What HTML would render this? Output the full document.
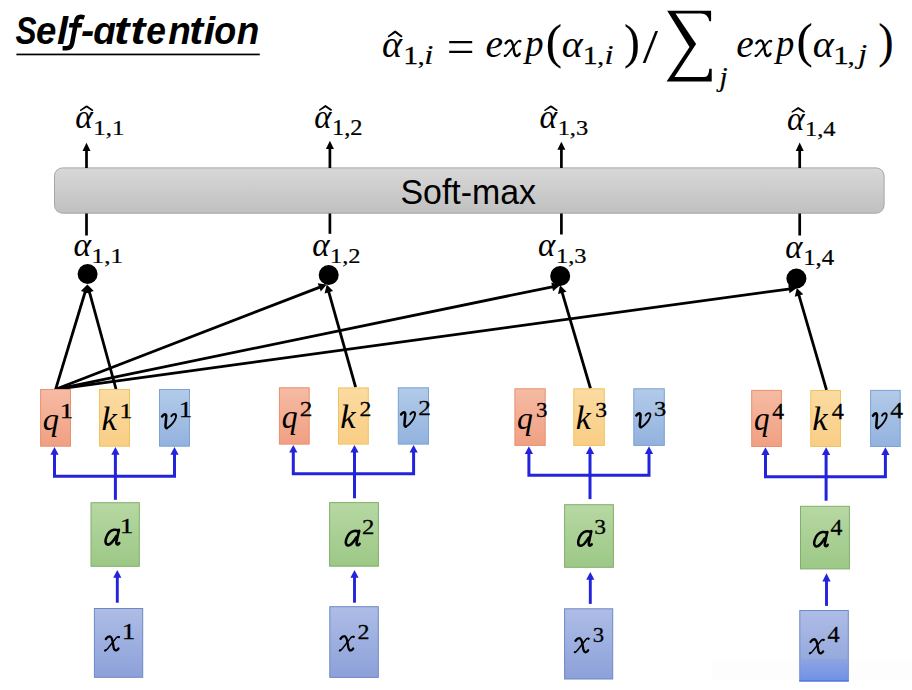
<!DOCTYPE html>
<html><head><meta charset="utf-8"><style>
html,body{margin:0;padding:0;background:#fff;width:912px;height:690px;overflow:hidden}
svg{display:block}
</style></head><body>
<svg width="912" height="690" viewBox="0 0 912 690">
<defs>
<linearGradient id="gs" x1="0" y1="0" x2="0" y2="1"><stop offset="0" stop-color="#d8d8d8"/><stop offset="1" stop-color="#c0c0c0"/></linearGradient>
<linearGradient id="gq" x1="0" y1="0" x2="0" y2="1"><stop offset="0" stop-color="#f6bba3"/><stop offset="1" stop-color="#f0a083"/></linearGradient>
<linearGradient id="gk" x1="0" y1="0" x2="0" y2="1"><stop offset="0" stop-color="#fbdba2"/><stop offset="1" stop-color="#f9ce85"/></linearGradient>
<linearGradient id="gv" x1="0" y1="0" x2="0" y2="1"><stop offset="0" stop-color="#b3cbea"/><stop offset="1" stop-color="#92b2de"/></linearGradient>
<linearGradient id="ga" x1="0" y1="0" x2="0" y2="1"><stop offset="0" stop-color="#b7d8a3"/><stop offset="1" stop-color="#9cc886"/></linearGradient>
<linearGradient id="gx" x1="0" y1="0" x2="0" y2="1"><stop offset="0" stop-color="#aebde6"/><stop offset="1" stop-color="#8ca1d9"/></linearGradient>
<linearGradient id="gw" x1="0" y1="0" x2="0" y2="1"><stop offset="0" stop-color="#8aa2e2"/><stop offset="1" stop-color="#5f88ee"/></linearGradient>
</defs>

<rect x="712" y="659.3" width="200" height="21" fill="#fdfdfd"/>
<path d="M84.3 17.6 Q81.2 16.4 78.9 17.1 Q76.7 17.9 76.1 21.8 L72.1 43.2 Q71 48.1 66.6 48.3 L62.6 48.3" fill="none" stroke="#000" stroke-width="4.5"/>
<path d="M69.6 23.1 L82.4 23.1 L81.6 27.5 L68.8 27.5 Z" fill="#000"/>
<rect x="16.4" y="53.6" width="243.4" height="1.7" fill="#000"/>
<rect x="54.5" y="167.9" width="829.6" height="45.3" rx="8" ry="8" fill="url(#gs)" stroke="#a6a6a6" stroke-width="1"/>
<rect x="85.15" y="150.2" width="2.7" height="17.80" fill="#000"/>
<path d="M86.5 142.8 L90.5 150.89999999999998 L82.5 150.89999999999998 Z" fill="#000"/>
<rect x="85.15" y="213.5" width="2.7" height="22.0" fill="#000"/>
<rect x="328.54999999999995" y="148.4" width="2.7" height="19.60" fill="#000"/>
<path d="M329.9 140.8 L333.9 149.1 L325.9 149.1 Z" fill="#000"/>
<rect x="328.54999999999995" y="213.5" width="2.7" height="20.30000000000001" fill="#000"/>
<rect x="560.05" y="149.0" width="2.7" height="19.00" fill="#000"/>
<path d="M561.4 141.7 L565.4 149.7 L557.4 149.7 Z" fill="#000"/>
<rect x="560.05" y="213.5" width="2.7" height="21.0" fill="#000"/>
<rect x="798.35" y="150.2" width="2.7" height="17.80" fill="#000"/>
<path d="M799.7 142.5 L803.7 150.89999999999998 L795.7 150.89999999999998 Z" fill="#000"/>
<rect x="798.35" y="213.5" width="2.7" height="22.0" fill="#000"/>
<circle cx="87.6" cy="274" r="10" fill="#000"/>
<circle cx="328.7" cy="275" r="10" fill="#000"/>
<circle cx="560.2" cy="276" r="10" fill="#000"/>
<circle cx="796.4" cy="278.5" r="10" fill="#000"/>
<line x1="55.60" y1="389.30" x2="85.51" y2="290.72" stroke="#000" stroke-width="2.8"/><path d="M87.40 284.50 L89.29 293.43 L80.87 290.88 Z" fill="#000"/>
<line x1="116.00" y1="389.00" x2="89.12" y2="290.77" stroke="#000" stroke-width="2.8"/><path d="M87.40 284.50 L93.76 291.05 L85.27 293.38 Z" fill="#000"/>
<line x1="55.60" y1="389.30" x2="320.64" y2="286.84" stroke="#000" stroke-width="2.8"/><path d="M326.70 284.50 L320.82 291.49 L317.65 283.28 Z" fill="#000"/>
<line x1="355.60" y1="387.20" x2="328.46" y2="290.76" stroke="#000" stroke-width="2.8"/><path d="M326.70 284.50 L333.10 291.01 L324.63 293.39 Z" fill="#000"/>
<line x1="55.60" y1="389.30" x2="553.63" y2="286.51" stroke="#000" stroke-width="2.8"/><path d="M560.00 285.20 L553.05 291.13 L551.28 282.51 Z" fill="#000"/>
<line x1="590.50" y1="388.50" x2="561.84" y2="291.43" stroke="#000" stroke-width="2.8"/><path d="M560.00 285.20 L566.49 291.63 L558.05 294.12 Z" fill="#000"/>
<line x1="55.60" y1="389.30" x2="790.36" y2="288.78" stroke="#000" stroke-width="2.8"/><path d="M796.80 287.90 L789.47 293.34 L788.28 284.62 Z" fill="#000"/>
<line x1="826.50" y1="389.80" x2="798.62" y2="294.14" stroke="#000" stroke-width="2.8"/><path d="M796.80 287.90 L803.26 294.35 L794.81 296.81 Z" fill="#000"/>
<rect x="40.60" y="389.50" width="29.90" height="56.70" fill="url(#gq)" stroke="#e8906f" stroke-width="1"/>
<rect x="99.50" y="389.50" width="30.00" height="56.70" fill="url(#gk)" stroke="#f0c25c" stroke-width="1"/>
<rect x="159.50" y="389.50" width="30.00" height="56.70" fill="url(#gv)" stroke="#7ba2d0" stroke-width="1"/>
<rect x="91.00" y="502.70" width="48.30" height="63.60" fill="url(#ga)" stroke="#80af6a" stroke-width="1"/>
<rect x="94.40" y="608.50" width="48.30" height="68.80" fill="url(#gx)" stroke="#6e87c5" stroke-width="1"/>
<polyline points="54.5,452.7 54.5,476.2 174.5,476.2 174.5,452.7" fill="none" stroke="#2323dc" stroke-width="3"/>
<rect x="113.9" y="452.7" width="3" height="47.10" fill="#2323dc"/>
<path d="M54.5 447.0 L58.6 454.7 L50.4 454.7 Z" fill="#2323dc"/>
<path d="M115.4 447.0 L119.5 454.7 L111.30000000000001 454.7 Z" fill="#2323dc"/>
<path d="M174.5 447.0 L178.6 454.7 L170.4 454.7 Z" fill="#2323dc"/>
<rect x="115.85" y="576.5" width="2.9" height="26.20" fill="#2323dc"/>
<path d="M117.3 570 L121.39999999999999 577.8 L113.2 577.8 Z" fill="#2323dc"/>
<rect x="279.40" y="387.80" width="29.80" height="56.30" fill="url(#gq)" stroke="#e8906f" stroke-width="1"/>
<rect x="338.50" y="387.90" width="29.80" height="56.20" fill="url(#gk)" stroke="#f0c25c" stroke-width="1"/>
<rect x="398.30" y="387.80" width="30.20" height="56.30" fill="url(#gv)" stroke="#7ba2d0" stroke-width="1"/>
<rect x="329.60" y="502.60" width="48.80" height="63.60" fill="url(#ga)" stroke="#80af6a" stroke-width="1"/>
<rect x="329.80" y="606.70" width="48.50" height="70.70" fill="url(#gx)" stroke="#6e87c5" stroke-width="1"/>
<polyline points="293.3,450.6 293.3,473.8 413.6,473.8 413.6,450.6" fill="none" stroke="#2323dc" stroke-width="3"/>
<rect x="353.0" y="450.6" width="3" height="47.70" fill="#2323dc"/>
<path d="M293.3 444.90000000000003 L297.40000000000003 452.6 L289.2 452.6 Z" fill="#2323dc"/>
<path d="M354.5 444.90000000000003 L358.6 452.6 L350.4 452.6 Z" fill="#2323dc"/>
<path d="M413.6 444.90000000000003 L417.70000000000005 452.6 L409.5 452.6 Z" fill="#2323dc"/>
<rect x="353.05" y="576.5" width="2.9" height="26.20" fill="#2323dc"/>
<path d="M354.5 570 L358.6 577.8 L350.4 577.8 Z" fill="#2323dc"/>
<rect x="514.90" y="388.80" width="30.30" height="56.60" fill="url(#gq)" stroke="#e8906f" stroke-width="1"/>
<rect x="573.80" y="388.80" width="30.50" height="56.60" fill="url(#gk)" stroke="#f0c25c" stroke-width="1"/>
<rect x="633.80" y="388.80" width="30.50" height="56.60" fill="url(#gv)" stroke="#7ba2d0" stroke-width="1"/>
<rect x="564.60" y="504.70" width="48.80" height="62.60" fill="url(#ga)" stroke="#80af6a" stroke-width="1"/>
<rect x="564.60" y="608.80" width="48.10" height="70.20" fill="url(#gx)" stroke="#6e87c5" stroke-width="1"/>
<polyline points="528.9,451.9 528.9,475.3 649,475.3 649,451.9" fill="none" stroke="#2323dc" stroke-width="3"/>
<rect x="588.5" y="451.9" width="3" height="47.20" fill="#2323dc"/>
<path d="M528.9 446.2 L533.0 453.9 L524.8 453.9 Z" fill="#2323dc"/>
<path d="M590 446.2 L594.1 453.9 L585.9 453.9 Z" fill="#2323dc"/>
<path d="M649 446.2 L653.1 453.9 L644.9 453.9 Z" fill="#2323dc"/>
<rect x="588.8499999999999" y="578.5" width="2.9" height="25.40" fill="#2323dc"/>
<path d="M590.3 572 L594.4 579.8 L586.1999999999999 579.8 Z" fill="#2323dc"/>
<rect x="751.70" y="390.40" width="29.70" height="56.10" fill="url(#gq)" stroke="#e8906f" stroke-width="1"/>
<rect x="810.80" y="390.50" width="29.70" height="56.00" fill="url(#gk)" stroke="#f0c25c" stroke-width="1"/>
<rect x="870.60" y="390.40" width="29.60" height="56.10" fill="url(#gv)" stroke="#7ba2d0" stroke-width="1"/>
<rect x="800.50" y="506.30" width="48.90" height="62.60" fill="url(#ga)" stroke="#80af6a" stroke-width="1"/>
<rect x="799.80" y="610.50" width="48.50" height="70.50" fill="url(#gx)" stroke="#6e87c5" stroke-width="1"/>
<polyline points="765.5,453 765.5,476.8 885.4,476.8 885.4,453" fill="none" stroke="#2323dc" stroke-width="3"/>
<rect x="824.6" y="453" width="3" height="47.70" fill="#2323dc"/>
<path d="M765.5 447.3 L769.6 455 L761.4 455 Z" fill="#2323dc"/>
<path d="M826.1 447.3 L830.2 455 L822.0 455 Z" fill="#2323dc"/>
<path d="M885.4 447.3 L889.5 455 L881.3 455 Z" fill="#2323dc"/>
<rect x="825.05" y="580.1" width="2.9" height="25.80" fill="#2323dc"/>
<path d="M826.5 573.2 L830.6 581.4 L822.4 581.4 Z" fill="#2323dc"/>
<rect x="799.8" y="658.8" width="48.5" height="22.4" fill="url(#gw)" opacity="0.65"/>
<rect x="799.3" y="680.2" width="49.5" height="1.3" fill="#4f78e0"/>
<path d="M79.85 110.00 L85.72 105.80 Q86.62 105.00 87.53 105.80 L93.40 109.90 L92.90 111.00 L92.00 111.00 L86.62 107.60 L80.85 111.00 L80.15 111.00 Z" fill="#000"/>
<path d="M318.90 109.70 L324.55 105.50 Q325.45 104.70 326.35 105.50 L332.00 109.60 L331.50 110.70 L330.60 110.70 L325.45 107.30 L319.90 110.70 L319.20 110.70 Z" fill="#000"/>
<path d="M544.20 110.00 L550.05 105.80 Q550.95 105.00 551.85 105.80 L557.70 109.90 L557.20 111.00 L556.30 111.00 L550.95 107.60 L545.20 111.00 L544.50 111.00 Z" fill="#000"/>
<path d="M791.50 111.60 L797.35 107.40 Q798.25 106.60 799.15 107.40 L805.00 111.50 L804.50 112.60 L803.60 112.60 L798.25 109.20 L792.50 112.60 L791.80 112.60 Z" fill="#000"/>
<path d="M387.80 36.11 L394.16 30.95 Q395.15 30.07 396.14 30.95 L402.50 36.00 L401.95 37.21 L400.96 37.21 L395.15 32.93 L388.90 37.21 L388.13 37.21 Z" fill="#000"/>
<path d="M667.2 10.8 L711.1 10.8 L711.1 21.2 L709.3 21.2 Q708 13.4 701 13.4 L675.5 13.4 L696.1 43.9 L674.5 77 L704.5 77 Q709 77 709.3 68.7 L711.7 68.7 L711.7 81.6 L666.6 81.6 L689.5 47 Z" fill="#000"/>
<text transform="matrix(0.15781 0 0 0.19789 15.527 43.604)" style="font-family:'Liberation Sans';font-style:italic;font-weight:bold;font-size:200px">S</text>
<text transform="matrix(0.18300 0 0 0.19789 36.102 43.604)" style="font-family:'Liberation Sans';font-style:italic;font-weight:bold;font-size:200px">e</text>
<text transform="matrix(0.19818 0 0 0.19789 57.007 43.604)" style="font-family:'Liberation Sans';font-style:italic;font-weight:bold;font-size:200px">l</text>
<text transform="matrix(0.19818 0 0 0.19789 80.911 43.604)" style="font-family:'Liberation Sans';font-style:italic;font-weight:bold;font-size:200px">-</text>
<text transform="matrix(0.18571 0 0 0.19789 93.286 43.604)" style="font-family:'Liberation Sans';font-style:italic;font-weight:bold;font-size:200px">ɑ</text>
<text transform="matrix(0.23125 0 0 0.19789 114.119 43.604)" style="font-family:'Liberation Sans';font-style:italic;font-weight:bold;font-size:200px">t</text>
<text transform="matrix(0.22344 0 0 0.19789 130.489 43.604)" style="font-family:'Liberation Sans';font-style:italic;font-weight:bold;font-size:200px">t</text>
<text transform="matrix(0.17700 0 0 0.19789 146.238 43.604)" style="font-family:'Liberation Sans';font-style:italic;font-weight:bold;font-size:200px">e</text>
<text transform="matrix(0.18455 0 0 0.19789 168.262 43.604)" style="font-family:'Liberation Sans';font-style:italic;font-weight:bold;font-size:200px">n</text>
<text transform="matrix(0.20938 0 0 0.19789 189.316 43.604)" style="font-family:'Liberation Sans';font-style:italic;font-weight:bold;font-size:200px">t</text>
<text transform="matrix(0.20545 0 0 0.19789 203.778 43.604)" style="font-family:'Liberation Sans';font-style:italic;font-weight:bold;font-size:200px">i</text>
<text transform="matrix(0.18000 0 0 0.19789 214.320 43.604)" style="font-family:'Liberation Sans';font-style:italic;font-weight:bold;font-size:200px">o</text>
<text transform="matrix(0.18455 0 0 0.19789 236.862 43.604)" style="font-family:'Liberation Sans';font-style:italic;font-weight:bold;font-size:200px">n</text>
<text transform="matrix(0.16946 0 0 0.17183 400.475 203.656)" style="font-family:'Liberation Sans';font-style:normal;font-weight:normal;font-size:200px">Soft-max</text>
<text transform="matrix(0.19069 0 0 0.19115 381.881 57.093)" style="font-family:'Liberation Serif';font-style:italic;font-weight:normal;font-size:200px;stroke:#000;stroke-width:0.26px;stroke-linejoin:round">α</text>
<text transform="matrix(0.15000 0 0 0.12290 403.150 63.750)" style="font-family:'Liberation Serif';font-style:normal;font-weight:normal;font-size:200px;stroke:#000;stroke-width:2.20px;stroke-linejoin:round">1</text>
<text transform="matrix(0.14552 0 0 0.11412 417.376 63.936)" style="font-family:'Liberation Serif';font-style:normal;font-weight:normal;font-size:200px;stroke:#000;stroke-width:0.62px;stroke-linejoin:round">,</text>
<text transform="matrix(0.16316 0 0 0.14091 424.305 63.800)" style="font-family:'Liberation Serif';font-style:italic;font-weight:normal;font-size:200px;stroke:#000;stroke-width:1.32px;stroke-linejoin:round">i</text>
<text transform="matrix(0.24645 0 0 0.23440 446.775 61.770)" style="font-family:'Liberation Serif';font-style:normal;font-weight:normal;font-size:200px;stroke:#000;stroke-width:0.33px;stroke-linejoin:round">=</text>
<text transform="matrix(0.19744 0 0 0.19687 485.415 57.106)" style="font-family:'Liberation Serif';font-style:italic;font-weight:normal;font-size:200px">e</text>
<text transform="matrix(0.18302 0 0 0.18824 525.196 56.294)" style="font-family:'Liberation Serif';font-style:italic;font-weight:normal;font-size:200px">p</text>
<text transform="matrix(0.19744 0 0 0.19687 736.215 57.106)" style="font-family:'Liberation Serif';font-style:italic;font-weight:normal;font-size:200px">e</text>
<text transform="matrix(0.18302 0 0 0.18824 775.996 56.294)" style="font-family:'Liberation Serif';font-style:italic;font-weight:normal;font-size:200px">p</text>
<text transform="matrix(0.24353 0 0 0.24789 545.748 57.549)" style="font-family:'Liberation Serif';font-style:normal;font-weight:normal;font-size:200px;stroke:#000;stroke-width:0.33px;stroke-linejoin:round">(</text>
<text transform="matrix(0.19951 0 0 0.19219 561.828 57.091)" style="font-family:'Liberation Serif';font-style:italic;font-weight:normal;font-size:200px;stroke:#000;stroke-width:0.26px;stroke-linejoin:round">α</text>
<text transform="matrix(0.15000 0 0 0.12290 582.850 63.750)" style="font-family:'Liberation Serif';font-style:normal;font-weight:normal;font-size:200px;stroke:#000;stroke-width:2.20px;stroke-linejoin:round">1</text>
<text transform="matrix(0.14552 0 0 0.11412 597.076 63.936)" style="font-family:'Liberation Serif';font-style:normal;font-weight:normal;font-size:200px;stroke:#000;stroke-width:0.62px;stroke-linejoin:round">,</text>
<text transform="matrix(0.16316 0 0 0.14091 604.605 63.800)" style="font-family:'Liberation Serif';font-style:italic;font-weight:normal;font-size:200px;stroke:#000;stroke-width:1.32px;stroke-linejoin:round">i</text>
<text transform="matrix(0.23885 0 0 0.24789 624.107 57.549)" style="font-family:'Liberation Serif';font-style:normal;font-weight:normal;font-size:200px;stroke:#000;stroke-width:0.33px;stroke-linejoin:round">)</text>
<text transform="matrix(0.27491 0 0 0.24602 642.640 63.468)" style="font-family:'Liberation Serif';font-style:normal;font-weight:normal;font-size:200px;stroke:#000;stroke-width:0.31px;stroke-linejoin:round">/</text>
<text transform="matrix(0.14583 0 0 0.13333 719.462 86.000)" style="font-family:'Liberation Serif';font-style:italic;font-weight:normal;font-size:200px;stroke:#000;stroke-width:1.43px;stroke-linejoin:round">j</text>
<text transform="matrix(0.24353 0 0 0.24400 796.548 57.312)" style="font-family:'Liberation Serif';font-style:normal;font-weight:normal;font-size:200px;stroke:#000;stroke-width:0.33px;stroke-linejoin:round">(</text>
<text transform="matrix(0.20049 0 0 0.18802 812.722 56.999)" style="font-family:'Liberation Serif';font-style:italic;font-weight:normal;font-size:200px;stroke:#000;stroke-width:0.26px;stroke-linejoin:round">α</text>
<text transform="matrix(0.15571 0 0 0.12595 833.147 63.750)" style="font-family:'Liberation Serif';font-style:normal;font-weight:normal;font-size:200px;stroke:#000;stroke-width:2.13px;stroke-linejoin:round">1</text>
<text transform="matrix(0.14552 0 0 0.12000 847.476 64.060)" style="font-family:'Liberation Serif';font-style:normal;font-weight:normal;font-size:200px;stroke:#000;stroke-width:0.60px;stroke-linejoin:round">,</text>
<text transform="matrix(0.15833 0 0 0.13736 858.325 63.031)" style="font-family:'Liberation Serif';font-style:italic;font-weight:normal;font-size:200px;stroke:#000;stroke-width:1.35px;stroke-linejoin:round">j</text>
<text transform="matrix(0.23115 0 0 0.24400 878.253 57.312)" style="font-family:'Liberation Serif';font-style:normal;font-weight:normal;font-size:200px;stroke:#000;stroke-width:0.34px;stroke-linejoin:round">)</text>
<text transform="matrix(0.16765 0 0 0.16719 75.269 128.241)" style="font-family:'Liberation Serif';font-style:italic;font-weight:normal;font-size:200px;stroke:#000;stroke-width:0.30px;stroke-linejoin:round">α</text>
<text transform="matrix(0.12477 0 0 0.10878 93.179 134.775)" style="font-family:'Liberation Serif';font-style:normal;font-weight:normal;font-size:200px;stroke:#000;stroke-width:2.14px;stroke-linejoin:round">1,1</text>
<text transform="matrix(0.16324 0 0 0.16719 314.346 127.941)" style="font-family:'Liberation Serif';font-style:italic;font-weight:normal;font-size:200px;stroke:#000;stroke-width:0.30px;stroke-linejoin:round">α</text>
<text transform="matrix(0.12240 0 0 0.11183 331.922 134.775)" style="font-family:'Liberation Serif';font-style:normal;font-weight:normal;font-size:200px;stroke:#000;stroke-width:2.13px;stroke-linejoin:round">1,2</text>
<text transform="matrix(0.16716 0 0 0.16406 539.622 127.947)" style="font-family:'Liberation Serif';font-style:italic;font-weight:normal;font-size:200px;stroke:#000;stroke-width:0.30px;stroke-linejoin:round">α</text>
<text transform="matrix(0.12210 0 0 0.10878 557.627 134.775)" style="font-family:'Liberation Serif';font-style:normal;font-weight:normal;font-size:200px;stroke:#000;stroke-width:2.17px;stroke-linejoin:round">1,3</text>
<text transform="matrix(0.16716 0 0 0.16823 786.922 129.939)" style="font-family:'Liberation Serif';font-style:italic;font-weight:normal;font-size:200px;stroke:#000;stroke-width:0.30px;stroke-linejoin:round">α</text>
<text transform="matrix(0.12249 0 0 0.10649 804.920 135.775)" style="font-family:'Liberation Serif';font-style:normal;font-weight:normal;font-size:200px;stroke:#000;stroke-width:2.18px;stroke-linejoin:round">1,4</text>
<text transform="matrix(0.16716 0 0 0.16719 73.622 256.241)" style="font-family:'Liberation Serif';font-style:italic;font-weight:normal;font-size:200px;stroke:#000;stroke-width:0.30px;stroke-linejoin:round">α</text>
<text transform="matrix(0.12568 0 0 0.10878 91.563 262.775)" style="font-family:'Liberation Serif';font-style:normal;font-weight:normal;font-size:200px;stroke:#000;stroke-width:2.13px;stroke-linejoin:round">1,1</text>
<text transform="matrix(0.16520 0 0 0.16719 312.134 256.241)" style="font-family:'Liberation Serif';font-style:italic;font-weight:normal;font-size:200px;stroke:#000;stroke-width:0.30px;stroke-linejoin:round">α</text>
<text transform="matrix(0.12240 0 0 0.10878 329.922 262.775)" style="font-family:'Liberation Serif';font-style:normal;font-weight:normal;font-size:200px;stroke:#000;stroke-width:2.16px;stroke-linejoin:round">1,2</text>
<text transform="matrix(0.16422 0 0 0.16719 537.940 256.241)" style="font-family:'Liberation Serif';font-style:italic;font-weight:normal;font-size:200px;stroke:#000;stroke-width:0.30px;stroke-linejoin:round">α</text>
<text transform="matrix(0.12210 0 0 0.10573 555.927 262.775)" style="font-family:'Liberation Serif';font-style:normal;font-weight:normal;font-size:200px;stroke:#000;stroke-width:2.19px;stroke-linejoin:round">1,3</text>
<text transform="matrix(0.16373 0 0 0.16719 785.293 258.241)" style="font-family:'Liberation Serif';font-style:italic;font-weight:normal;font-size:200px;stroke:#000;stroke-width:0.30px;stroke-linejoin:round">α</text>
<text transform="matrix(0.12424 0 0 0.11183 803.189 264.775)" style="font-family:'Liberation Serif';font-style:normal;font-weight:normal;font-size:200px;stroke:#000;stroke-width:2.12px;stroke-linejoin:round">1,4</text>
<text transform="matrix(0.16227 0 0 0.16088 42.674 429.533)" style="font-family:'Liberation Serif';font-style:italic;font-weight:normal;font-size:200px;stroke:#000;stroke-width:0.12px;stroke-linejoin:round">q</text>
<text transform="matrix(0.13571 0 0 0.10916 59.707 417.650)" style="font-family:'Liberation Serif';font-style:normal;font-weight:normal;font-size:200px;stroke:#000;stroke-width:2.45px;stroke-linejoin:round">1</text>
<text transform="matrix(0.17302 0 0 0.16580 101.472 429.990)" style="font-family:'Liberation Serif';font-style:italic;font-weight:normal;font-size:200px;stroke:#000;stroke-width:0.12px;stroke-linejoin:round">k</text>
<text transform="matrix(0.13000 0 0 0.10687 119.510 417.650)" style="font-family:'Liberation Serif';font-style:normal;font-weight:normal;font-size:200px;stroke:#000;stroke-width:2.53px;stroke-linejoin:round">1</text>
<text transform="matrix(0.13429 0 0 0.11145 178.733 417.050)" style="font-family:'Liberation Serif';font-style:normal;font-weight:normal;font-size:200px;stroke:#000;stroke-width:2.44px;stroke-linejoin:round">1</text>
<text transform="matrix(0.15886 0 0 0.16529 281.698 427.848)" style="font-family:'Liberation Serif';font-style:italic;font-weight:normal;font-size:200px;stroke:#000;stroke-width:0.12px;stroke-linejoin:round">q</text>
<text transform="matrix(0.12625 0 0 0.10909 299.714 415.850)" style="font-family:'Liberation Serif';font-style:normal;font-weight:normal;font-size:200px;stroke:#000;stroke-width:2.55px;stroke-linejoin:round">2</text>
<text transform="matrix(0.17302 0 0 0.16725 340.172 428.390)" style="font-family:'Liberation Serif';font-style:italic;font-weight:normal;font-size:200px;stroke:#000;stroke-width:0.12px;stroke-linejoin:round">k</text>
<text transform="matrix(0.11875 0 0 0.10909 359.381 415.850)" style="font-family:'Liberation Serif';font-style:normal;font-weight:normal;font-size:200px;stroke:#000;stroke-width:2.63px;stroke-linejoin:round">2</text>
<text transform="matrix(0.12625 0 0 0.10833 418.314 414.850)" style="font-family:'Liberation Serif';font-style:normal;font-weight:normal;font-size:200px;stroke:#000;stroke-width:2.56px;stroke-linejoin:round">2</text>
<text transform="matrix(0.15886 0 0 0.16309 516.998 428.540)" style="font-family:'Liberation Serif';font-style:italic;font-weight:normal;font-size:200px;stroke:#000;stroke-width:0.12px;stroke-linejoin:round">q</text>
<text transform="matrix(0.11463 0 0 0.10672 536.004 416.837)" style="font-family:'Liberation Serif';font-style:normal;font-weight:normal;font-size:200px;stroke:#000;stroke-width:2.71px;stroke-linejoin:round">3</text>
<text transform="matrix(0.16953 0 0 0.16725 575.793 429.290)" style="font-family:'Liberation Serif';font-style:italic;font-weight:normal;font-size:200px;stroke:#000;stroke-width:0.12px;stroke-linejoin:round">k</text>
<text transform="matrix(0.11829 0 0 0.10448 595.267 416.541)" style="font-family:'Liberation Serif';font-style:normal;font-weight:normal;font-size:200px;stroke:#000;stroke-width:2.69px;stroke-linejoin:round">3</text>
<text transform="matrix(0.12195 0 0 0.10448 653.930 415.641)" style="font-family:'Liberation Serif';font-style:normal;font-weight:normal;font-size:200px;stroke:#000;stroke-width:2.65px;stroke-linejoin:round">3</text>
<text transform="matrix(0.15545 0 0 0.16529 754.122 429.648)" style="font-family:'Liberation Serif';font-style:italic;font-weight:normal;font-size:200px;stroke:#000;stroke-width:0.12px;stroke-linejoin:round">q</text>
<text transform="matrix(0.11828 0 0 0.11231 772.177 418.962)" style="font-family:'Liberation Serif';font-style:normal;font-weight:normal;font-size:200px;stroke:#000;stroke-width:2.60px;stroke-linejoin:round">4</text>
<text transform="matrix(0.17302 0 0 0.16580 812.172 429.990)" style="font-family:'Liberation Serif';font-style:italic;font-weight:normal;font-size:200px;stroke:#000;stroke-width:0.12px;stroke-linejoin:round">k</text>
<text transform="matrix(0.12151 0 0 0.11231 831.664 418.962)" style="font-family:'Liberation Serif';font-style:normal;font-weight:normal;font-size:200px;stroke:#000;stroke-width:2.57px;stroke-linejoin:round">4</text>
<text transform="matrix(0.12796 0 0 0.11231 890.238 418.062)" style="font-family:'Liberation Serif';font-style:normal;font-weight:normal;font-size:200px;stroke:#000;stroke-width:2.50px;stroke-linejoin:round">4</text>
<text transform="matrix(0.13714 0 0 0.10840 119.681 532.750)" style="font-family:'Liberation Serif';font-style:normal;font-weight:normal;font-size:200px;stroke:#000;stroke-width:2.44px;stroke-linejoin:round">1</text>
<text transform="matrix(0.12375 0 0 0.10985 361.936 533.850)" style="font-family:'Liberation Serif';font-style:normal;font-weight:normal;font-size:200px;stroke:#000;stroke-width:2.57px;stroke-linejoin:round">2</text>
<text transform="matrix(0.11707 0 0 0.10821 594.279 533.934)" style="font-family:'Liberation Serif';font-style:normal;font-weight:normal;font-size:200px;stroke:#000;stroke-width:2.66px;stroke-linejoin:round">3</text>
<text transform="matrix(0.11828 0 0 0.11154 830.477 534.862)" style="font-family:'Liberation Serif';font-style:normal;font-weight:normal;font-size:200px;stroke:#000;stroke-width:2.61px;stroke-linejoin:round">4</text>
<text transform="matrix(0.13571 0 0 0.11069 121.807 638.750)" style="font-family:'Liberation Serif';font-style:normal;font-weight:normal;font-size:200px;stroke:#000;stroke-width:2.44px;stroke-linejoin:round">1</text>
<text transform="matrix(0.12000 0 0 0.10758 357.570 638.750)" style="font-family:'Liberation Serif';font-style:normal;font-weight:normal;font-size:200px;stroke:#000;stroke-width:2.64px;stroke-linejoin:round">2</text>
<text transform="matrix(0.11341 0 0 0.10821 592.816 641.734)" style="font-family:'Liberation Serif';font-style:normal;font-weight:normal;font-size:200px;stroke:#000;stroke-width:2.71px;stroke-linejoin:round">3</text>
<text transform="matrix(0.12151 0 0 0.11308 827.564 641.963)" style="font-family:'Liberation Serif';font-style:normal;font-weight:normal;font-size:200px;stroke:#000;stroke-width:2.56px;stroke-linejoin:round">4</text>
<g transform="matrix(1.0671 0 0 1.0783 393.038 -645.537)"><path d="M105.6 638.8 Q107.5 636.1 109.5 636.1 Q111.6 636.3 112.6 641.5 L113.6 647.3 Q114.3 650.7 116.3 650.5 Q117.6 650.2 118.6 648.6" fill="none" stroke="#000" stroke-width="2.30" stroke-linecap="round" stroke-linejoin="round"/><path d="M119.5 636.6 Q118 635.9 116.3 637.6 L107.6 648.5 Q106 650.6 104.5 650.8" fill="none" stroke="#000" stroke-width="1.60" stroke-linecap="round" stroke-linejoin="round"/><circle cx="119" cy="636.9" r="1.20" fill="#000"/><circle cx="105.1" cy="650.4" r="1.20" fill="#000"/></g>
<g transform="matrix(1.0671 0 0 1.0783 643.838 -645.537)"><path d="M105.6 638.8 Q107.5 636.1 109.5 636.1 Q111.6 636.3 112.6 641.5 L113.6 647.3 Q114.3 650.7 116.3 650.5 Q117.6 650.2 118.6 648.6" fill="none" stroke="#000" stroke-width="2.30" stroke-linecap="round" stroke-linejoin="round"/><path d="M119.5 636.6 Q118 635.9 116.3 637.6 L107.6 648.5 Q106 650.6 104.5 650.8" fill="none" stroke="#000" stroke-width="1.60" stroke-linecap="round" stroke-linejoin="round"/><circle cx="119" cy="636.9" r="1.20" fill="#000"/><circle cx="105.1" cy="650.4" r="1.20" fill="#000"/></g>
<g transform="matrix(0.9758 0 0 1.0000 3.705 0.000)"><path d="M162.3 416.4 Q163.8 414.3 165.3 414.3 Q166.9 414.5 166.5 417.5 L165.8 425.5 Q165.6 428.2 167.2 428.1" fill="none" stroke="#000" stroke-width="2.6" stroke-linecap="round" stroke-linejoin="round"/><path d="M167.2 428.1 Q171 426.5 174.8 421 Q176.9 417.5 176.7 415.5 Q176.4 414 175 414 Q173 414.2 171.8 416.3" fill="none" stroke="#000" stroke-width="1.9" stroke-linecap="round" stroke-linejoin="round"/></g>
<g transform="matrix(0.9758 0 0 1.0373 242.705 -17.499)"><path d="M162.3 416.4 Q163.8 414.3 165.3 414.3 Q166.9 414.5 166.5 417.5 L165.8 425.5 Q165.6 428.2 167.2 428.1" fill="none" stroke="#000" stroke-width="2.6" stroke-linecap="round" stroke-linejoin="round"/><path d="M167.2 428.1 Q171 426.5 174.8 421 Q176.9 417.5 176.7 415.5 Q176.4 414 175 414 Q173 414.2 171.8 416.3" fill="none" stroke="#000" stroke-width="1.9" stroke-linecap="round" stroke-linejoin="round"/></g>
<g transform="matrix(0.9758 0 0 1.0000 478.005 -0.900)"><path d="M162.3 416.4 Q163.8 414.3 165.3 414.3 Q166.9 414.5 166.5 417.5 L165.8 425.5 Q165.6 428.2 167.2 428.1" fill="none" stroke="#000" stroke-width="2.6" stroke-linecap="round" stroke-linejoin="round"/><path d="M167.2 428.1 Q171 426.5 174.8 421 Q176.9 417.5 176.7 415.5 Q176.4 414 175 414 Q173 414.2 171.8 416.3" fill="none" stroke="#000" stroke-width="1.9" stroke-linecap="round" stroke-linejoin="round"/></g>
<g transform="matrix(0.9576 0 0 1.0559 717.535 -23.998)"><path d="M162.3 416.4 Q163.8 414.3 165.3 414.3 Q166.9 414.5 166.5 417.5 L165.8 425.5 Q165.6 428.2 167.2 428.1" fill="none" stroke="#000" stroke-width="2.6" stroke-linecap="round" stroke-linejoin="round"/><path d="M167.2 428.1 Q171 426.5 174.8 421 Q176.9 417.5 176.7 415.5 Q176.4 414 175 414 Q173 414.2 171.8 416.3" fill="none" stroke="#000" stroke-width="1.9" stroke-linecap="round" stroke-linejoin="round"/></g>
<g transform="matrix(1.0000 0 0 1.0000 0.000 0.000)"><path d="M118.4 530.7 Q116.6 529.5 113.9 529.8 Q108.2 530.8 105.9 538.5 Q104.6 543.8 107.6 544.6 Q110.8 545.2 116.3 536.2" fill="none" stroke="#000" stroke-width="2.6" stroke-linecap="round" stroke-linejoin="round"/><path d="M118.9 529.7 L116.4 541.3 Q115.9 544.6 117.7 544.4 Q118.6 544.1 119.3 543" fill="none" stroke="#000" stroke-width="2.6" stroke-linecap="round" stroke-linejoin="round"/></g>
<g transform="matrix(1.0000 0 0 0.9821 240.300 10.643)"><path d="M118.4 530.7 Q116.6 529.5 113.9 529.8 Q108.2 530.8 105.9 538.5 Q104.6 543.8 107.6 544.6 Q110.8 545.2 116.3 536.2" fill="none" stroke="#000" stroke-width="2.6" stroke-linecap="round" stroke-linejoin="round"/><path d="M118.9 529.7 L116.4 541.3 Q115.9 544.6 117.7 544.4 Q118.6 544.1 119.3 543" fill="none" stroke="#000" stroke-width="2.6" stroke-linecap="round" stroke-linejoin="round"/></g>
<g transform="matrix(0.9815 0 0 0.9821 474.622 10.943)"><path d="M118.4 530.7 Q116.6 529.5 113.9 529.8 Q108.2 530.8 105.9 538.5 Q104.6 543.8 107.6 544.6 Q110.8 545.2 116.3 536.2" fill="none" stroke="#000" stroke-width="2.6" stroke-linecap="round" stroke-linejoin="round"/><path d="M118.9 529.7 L116.4 541.3 Q115.9 544.6 117.7 544.4 Q118.6 544.1 119.3 543" fill="none" stroke="#000" stroke-width="2.6" stroke-linecap="round" stroke-linejoin="round"/></g>
<g transform="matrix(0.9815 0 0 0.9702 710.622 18.038)"><path d="M118.4 530.7 Q116.6 529.5 113.9 529.8 Q108.2 530.8 105.9 538.5 Q104.6 543.8 107.6 544.6 Q110.8 545.2 116.3 536.2" fill="none" stroke="#000" stroke-width="2.6" stroke-linecap="round" stroke-linejoin="round"/><path d="M118.9 529.7 L116.4 541.3 Q115.9 544.6 117.7 544.4 Q118.6 544.1 119.3 543" fill="none" stroke="#000" stroke-width="2.6" stroke-linecap="round" stroke-linejoin="round"/></g>
<g transform="matrix(0.9695 0 0 0.9759 3.465 15.604)"><path d="M105.6 638.8 Q107.5 636.1 109.5 636.1 Q111.6 636.3 112.6 641.5 L113.6 647.3 Q114.3 650.7 116.3 650.5 Q117.6 650.2 118.6 648.6" fill="none" stroke="#000" stroke-width="2.40" stroke-linecap="round" stroke-linejoin="round"/><path d="M119.5 636.6 Q118 635.9 116.3 637.6 L107.6 648.5 Q106 650.6 104.5 650.8" fill="none" stroke="#000" stroke-width="1.50" stroke-linecap="round" stroke-linejoin="round"/><circle cx="119" cy="636.9" r="1.15" fill="#000"/><circle cx="105.1" cy="650.4" r="1.15" fill="#000"/></g>
<g transform="matrix(0.9695 0 0 0.9940 238.165 3.826)"><path d="M105.6 638.8 Q107.5 636.1 109.5 636.1 Q111.6 636.3 112.6 641.5 L113.6 647.3 Q114.3 650.7 116.3 650.5 Q117.6 650.2 118.6 648.6" fill="none" stroke="#000" stroke-width="2.40" stroke-linecap="round" stroke-linejoin="round"/><path d="M119.5 636.6 Q118 635.9 116.3 637.6 L107.6 648.5 Q106 650.6 104.5 650.8" fill="none" stroke="#000" stroke-width="1.50" stroke-linecap="round" stroke-linejoin="round"/><circle cx="119" cy="636.9" r="1.15" fill="#000"/><circle cx="105.1" cy="650.4" r="1.15" fill="#000"/></g>
<g transform="matrix(0.9695 0 0 0.9819 473.165 13.478)"><path d="M105.6 638.8 Q107.5 636.1 109.5 636.1 Q111.6 636.3 112.6 641.5 L113.6 647.3 Q114.3 650.7 116.3 650.5 Q117.6 650.2 118.6 648.6" fill="none" stroke="#000" stroke-width="2.40" stroke-linecap="round" stroke-linejoin="round"/><path d="M119.5 636.6 Q118 635.9 116.3 637.6 L107.6 648.5 Q106 650.6 104.5 650.8" fill="none" stroke="#000" stroke-width="1.50" stroke-linecap="round" stroke-linejoin="round"/><circle cx="119" cy="636.9" r="1.15" fill="#000"/><circle cx="105.1" cy="650.4" r="1.15" fill="#000"/></g>
<g transform="matrix(0.9695 0 0 0.9759 708.165 18.504)"><path d="M105.6 638.8 Q107.5 636.1 109.5 636.1 Q111.6 636.3 112.6 641.5 L113.6 647.3 Q114.3 650.7 116.3 650.5 Q117.6 650.2 118.6 648.6" fill="none" stroke="#000" stroke-width="2.40" stroke-linecap="round" stroke-linejoin="round"/><path d="M119.5 636.6 Q118 635.9 116.3 637.6 L107.6 648.5 Q106 650.6 104.5 650.8" fill="none" stroke="#000" stroke-width="1.50" stroke-linecap="round" stroke-linejoin="round"/><circle cx="119" cy="636.9" r="1.15" fill="#000"/><circle cx="105.1" cy="650.4" r="1.15" fill="#000"/></g>
</svg></body></html>
